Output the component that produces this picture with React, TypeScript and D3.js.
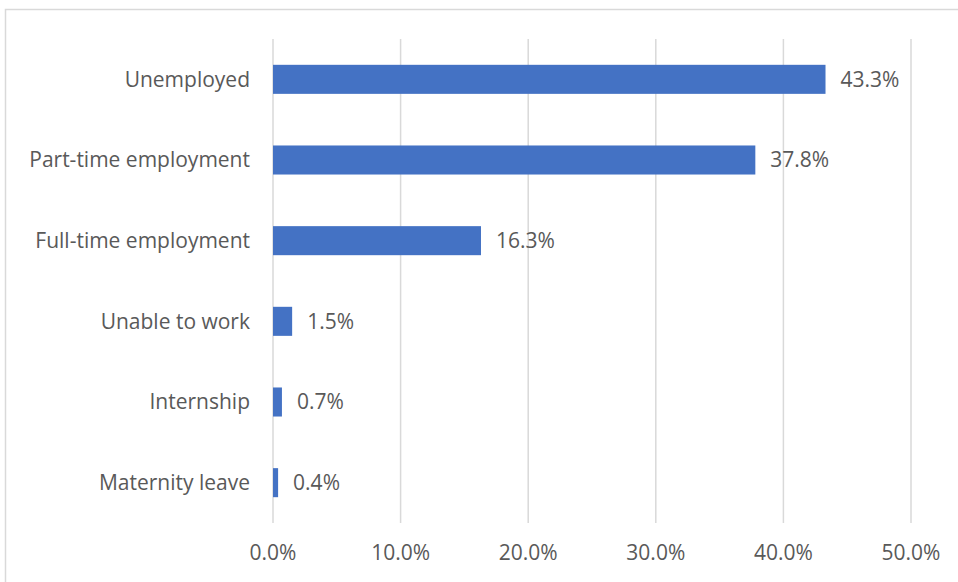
import React from "react";
import * as d3 from "d3";

const categories = ["Unemployed", "Part-time employment", "Full-time employment", "Unable to work", "Internship", "Maternity leave"];
const values = [43.3, 37.8, 16.3, 1.5, 0.7, 0.4];
const ticks = [0, 10, 20, 30, 40, 50];

const W = 958, H = 582;
const left = 273, right = 911, top = 39, bottom = 523;
const FONT = "'Open Sans', sans-serif";
const TEXT = "#595959";
const FS = 21;

export default function App() {
  const x = d3.scaleLinear().domain([0, 50]).range([left, right]);
  const y = d3.scaleBand().domain(categories).range([top, bottom]).paddingInner(0.64).paddingOuter(0.32);
  return (
    <svg width={W} height={H} style={{ position: "absolute", left: 0, top: 0 }}>
      <rect x={0} y={0} width={W} height={H} fill="#fff" />
      <rect x={5.5} y={9.5} width={W + 20} height={H + 20} fill="none" stroke="#d9d9d9" strokeWidth={1.5} />
      {ticks.map((t) => (
        <line key={t} x1={x(t)} x2={x(t)} y1={top} y2={bottom} stroke="#d9d9d9" strokeWidth={1.5} />
      ))}
      {categories.map((c, i) => (
        <g key={c}>
          <rect x={x(0)} y={y(c)!} width={x(values[i]) - x(0)} height={y.bandwidth()} fill="#4472C4" />
          <text x={left - 23} y={y(c)! + y.bandwidth() / 2} dy="0.35em" textAnchor="end" fontFamily={FONT} fontSize={FS} fill={TEXT}>{c}</text>
          <text x={x(values[i]) + 15} y={y(c)! + y.bandwidth() / 2} dy="0.35em" textAnchor="start" fontFamily={FONT} fontSize={FS} fill={TEXT}>{values[i].toFixed(1) + "%"}</text>
        </g>
      ))}
      {ticks.map((t) => (
        <text key={"l" + t} x={x(t)} y={553} dy="0.35em" textAnchor="middle" fontFamily={FONT} fontSize={FS} fill={TEXT}>{t.toFixed(1) + "%"}</text>
      ))}
    </svg>
  );
}
